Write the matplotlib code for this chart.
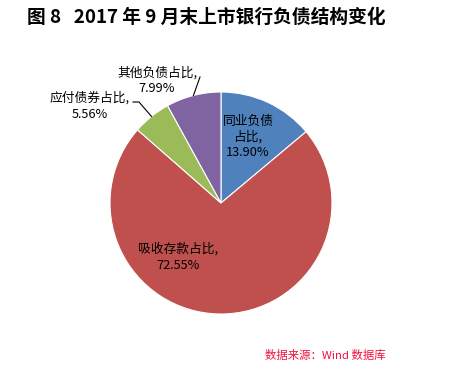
import matplotlib
matplotlib.use("Agg")
import matplotlib.pyplot as plt
import numpy as np

plt.rcParams['font.family'] = ['Noto Sans CJK SC', 'DejaVu Sans']

categories = ['同业负债占比', '吸收存款占比', '应付债券占比', '其他负债占比']
values = [13.90, 72.55, 5.56, 7.99]
label_texts = ['同业负债\n占比,\n13.90%', '吸收存款占比,\n72.55%', '应付债券占比,\n5.56%', '其他负债占比,\n7.99%']
colors = ['#4F81BD', '#C0504D', '#9BBB59', '#8064A2']

W, H = 450, 368
fig = plt.figure(figsize=(W / 100, H / 100), dpi=100)
cx, cy, r = 221, 203, 111
ax = fig.add_axes([(cx - r) / W, (H - cy - r) / H, 2 * r / W, 2 * r / H])
wedges, _ = ax.pie(values, colors=colors, startangle=90, counterclock=False,
                   radius=1.0, wedgeprops=dict(linewidth=0.8, edgecolor='white'))
ax.set_xlim(-1, 1)
ax.set_ylim(-1, 1)
ax.axis('off')

def px2d(x, y):
    return ((x - cx) / r, (cy - y) / r)

lab_pos = [(248, 137), (178, 257), (90, 106), (157, 81)]
for i, (w, t) in enumerate(zip(wedges, label_texts)):
    x, y = px2d(*lab_pos[i])
    ax.text(x, y, t, ha='center', va='center', fontsize=9.2, color='black',
            linespacing=1.25, clip_on=False)

line_starts = {2: (133, 102), 3: (200, 77)}
for i, (sx, sy) in line_starts.items():
    w = wedges[i]
    mid = np.deg2rad((w.theta1 + w.theta2) / 2)
    ex, ey = np.cos(mid), np.sin(mid)
    p0 = px2d(sx, sy)
    if i == 2:
        p1 = px2d(sx + 6, sy)
        ax.plot([p0[0], p1[0], ex], [p0[1], p1[1], ey], color='black', lw=0.8, clip_on=False)
    else:
        ax.plot([p0[0], ex], [p0[1], ey], color='black', lw=0.8, clip_on=False)

fig.text(27 / W, 1 - 17 / H, '图 8   2017 年 9 月末上市银行负债结构变化', ha='left', va='center',
         fontsize=13.5, fontweight='bold', color='black')
fig.text(265 / W, 1 - 355 / H, '数据来源：Wind 数据库', ha='left', va='center',
         fontsize=8.2, style='italic', color='#F0103C')

fig.savefig('out.png', dpi=100)
